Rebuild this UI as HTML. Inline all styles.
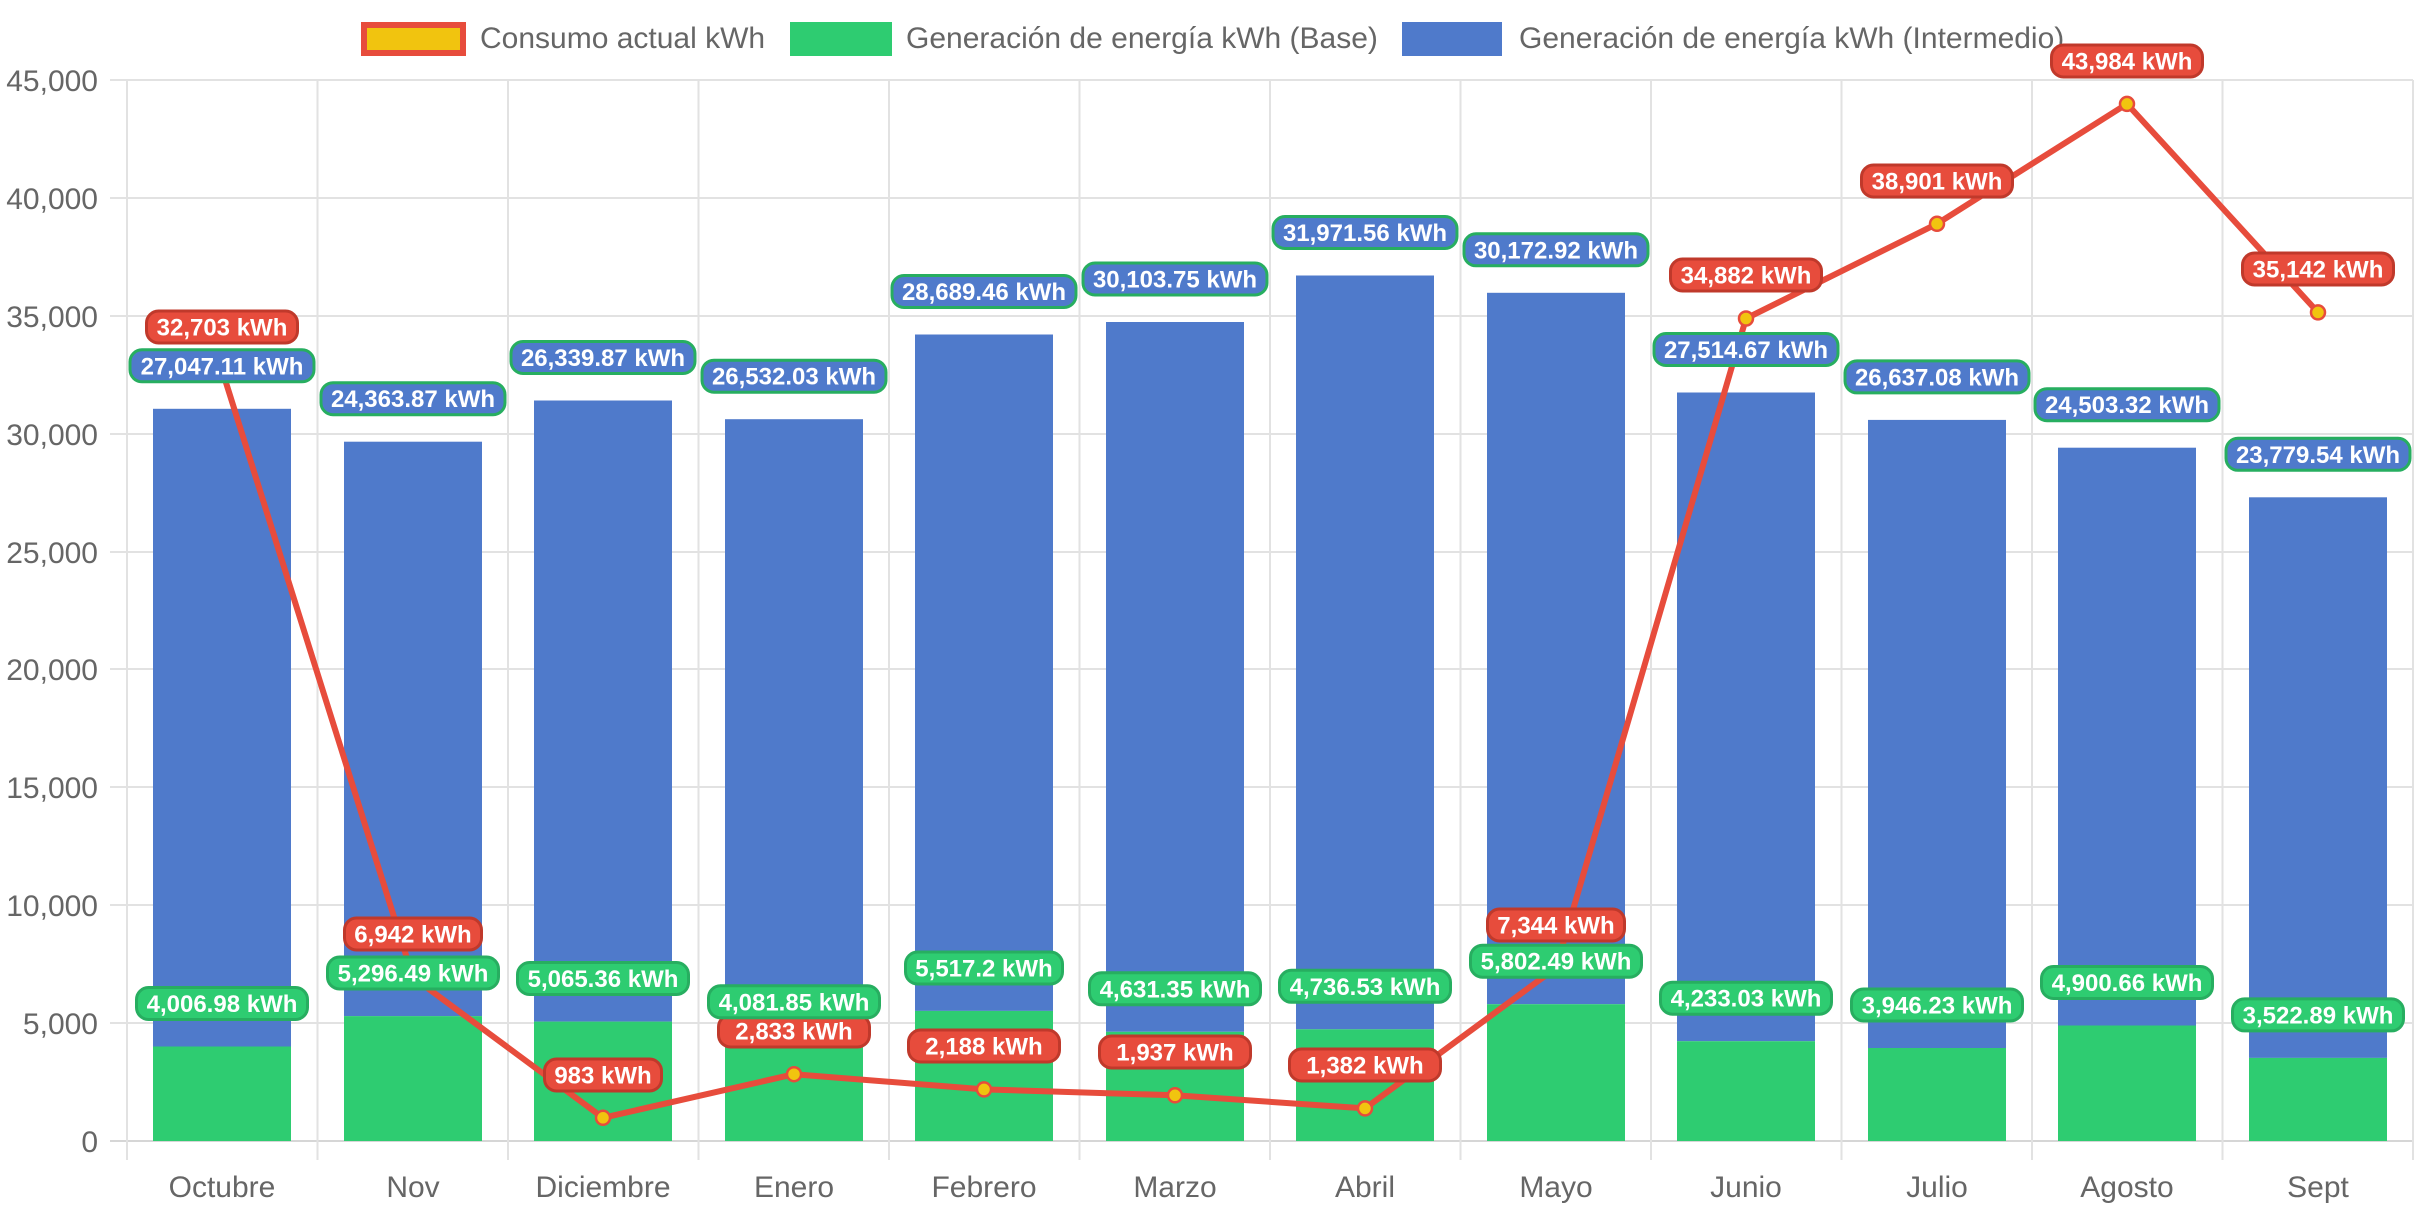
<!DOCTYPE html>
<html><head><meta charset="utf-8"><style>html,body{margin:0;padding:0;background:#fff;}svg{display:block;}</style></head>
<body>
<svg width="2427" height="1212" xmlns="http://www.w3.org/2000/svg" font-family="Liberation Sans, Arial, sans-serif">
<!-- grid -->
<g stroke="#e2e2e2" stroke-width="2">
<line x1="110" y1="80" x2="2413" y2="80"/><line x1="110" y1="198" x2="2413" y2="198"/><line x1="110" y1="316" x2="2413" y2="316"/>
<line x1="110" y1="434" x2="2413" y2="434"/><line x1="110" y1="552" x2="2413" y2="552"/><line x1="110" y1="669" x2="2413" y2="669"/>
<line x1="110" y1="787" x2="2413" y2="787"/><line x1="110" y1="905" x2="2413" y2="905"/><line x1="110" y1="1023" x2="2413" y2="1023"/>
<line x1="110" y1="1141" x2="2413" y2="1141" stroke="#d6d6d6"/>
<line x1="127" y1="80" x2="127" y2="1160"/><line x1="317.5" y1="80" x2="317.5" y2="1160"/><line x1="508" y1="80" x2="508" y2="1160"/>
<line x1="698.5" y1="80" x2="698.5" y2="1160"/><line x1="889" y1="80" x2="889" y2="1160"/><line x1="1079.5" y1="80" x2="1079.5" y2="1160"/>
<line x1="1270" y1="80" x2="1270" y2="1160"/><line x1="1460.5" y1="80" x2="1460.5" y2="1160"/><line x1="1651" y1="80" x2="1651" y2="1160"/>
<line x1="1841.5" y1="80" x2="1841.5" y2="1160"/><line x1="2032" y1="80" x2="2032" y2="1160"/><line x1="2222.5" y1="80" x2="2222.5" y2="1160"/>
<line x1="2413" y1="80" x2="2413" y2="1160"/>
</g>
<!-- y labels -->
<g fill="#666" font-size="30" text-anchor="end">
<text x="98" y="91">45,000</text><text x="98" y="209">40,000</text><text x="98" y="327">35,000</text>
<text x="98" y="445">30,000</text><text x="98" y="563">25,000</text><text x="98" y="680">20,000</text>
<text x="98" y="798">15,000</text><text x="98" y="916">10,000</text><text x="98" y="1034">5,000</text><text x="98" y="1152">0</text>
</g>
<!-- x labels -->
<g fill="#666" font-size="30" text-anchor="middle">
<text x="222" y="1197">Octubre</text><text x="413" y="1197">Nov</text><text x="603" y="1197">Diciembre</text>
<text x="794" y="1197">Enero</text><text x="984" y="1197">Febrero</text><text x="1175" y="1197">Marzo</text>
<text x="1365" y="1197">Abril</text><text x="1556" y="1197">Mayo</text><text x="1746" y="1197">Junio</text>
<text x="1937" y="1197">Julio</text><text x="2127" y="1197">Agosto</text><text x="2318" y="1197">Sept</text>
</g>
<!-- legend -->
<rect x="364" y="25" width="99" height="28" fill="#f1c40f" stroke="#e74c3c" stroke-width="6"/>
<text x="480" y="48" fill="#666" font-size="30">Consumo actual kWh</text>
<rect x="790" y="22" width="102" height="34" fill="#2ecc71"/>
<text x="906" y="48" fill="#666" font-size="30">Generación de energía kWh (Base)</text>
<rect x="1402" y="22" width="100" height="34" fill="#4f7acb"/>
<text x="1519" y="48" fill="#666" font-size="30">Generación de energía kWh (Intermedio)</text>
<!-- blue bars (top segment) -->
<g fill="#4f7acb">
<rect x="153" y="408.8" width="138" height="637.7"/><rect x="344" y="441.7" width="138" height="574.4"/>
<rect x="534" y="400.5" width="138" height="621.1"/><rect x="725" y="419.2" width="138" height="625.6"/>
<rect x="915" y="334.5" width="138" height="676.4"/><rect x="1106" y="322" width="138" height="709.8"/>
<rect x="1296" y="275.5" width="138" height="753.8"/><rect x="1487" y="292.8" width="138" height="711.4"/>
<rect x="1677" y="392.5" width="138" height="648.7"/><rect x="1868" y="419.9" width="138" height="628.1"/>
<rect x="2058" y="447.7" width="138" height="577.8"/><rect x="2249" y="497.3" width="138" height="560.6"/>
</g>
<g fill="#2ecc71">
<rect x="153" y="1046.5" width="138" height="94.5"/><rect x="344" y="1016.1" width="138" height="124.9"/>
<rect x="534" y="1021.6" width="138" height="119.4"/><rect x="725" y="1044.8" width="138" height="96.2"/>
<rect x="915" y="1010.9" width="138" height="130.1"/><rect x="1106" y="1031.8" width="138" height="109.2"/>
<rect x="1296" y="1029.3" width="138" height="111.7"/><rect x="1487" y="1004.2" width="138" height="136.8"/>
<rect x="1677" y="1041.2" width="138" height="99.8"/><rect x="1868" y="1048" width="138" height="93"/>
<rect x="2058" y="1025.5" width="138" height="115.5"/><rect x="2249" y="1057.9" width="138" height="83.1"/>
</g>
<!-- line -->
<polyline fill="none" stroke="#e74c3c" stroke-width="6" stroke-linejoin="round" points="222,369.9 413,977.3 603,1117.8 794,1074.2 984,1089.4 1175,1095.3 1365,1108.4 1556,967.8 1746,318.5 1937,223.8 2127,103.9 2318,312.4"/>
<g fill="#f1c40f" stroke="#e74c3c" stroke-width="2.5">
<circle cx="222" cy="369.9" r="7"/><circle cx="413" cy="977.3" r="7"/><circle cx="603" cy="1117.8" r="7"/>
<circle cx="794" cy="1074.2" r="7"/><circle cx="984" cy="1089.4" r="7"/><circle cx="1175" cy="1095.3" r="7"/>
<circle cx="1365" cy="1108.4" r="7"/><circle cx="1556" cy="967.8" r="7"/><circle cx="1746" cy="318.5" r="7"/>
<circle cx="1937" cy="223.8" r="7"/><circle cx="2127" cy="103.9" r="7"/><circle cx="2318" cy="312.4" r="7"/>
</g>
<!-- red labels -->
<g fill="#e74c3c" stroke="#c0392b" stroke-width="3">
<rect x="146.5" y="311" width="151" height="32" rx="12"/><rect x="344.5" y="918" width="137" height="32" rx="12"/>
<rect x="544.5" y="1059" width="117" height="32" rx="12"/><rect x="718.5" y="1015" width="151" height="32" rx="12"/>
<rect x="908.5" y="1030" width="151" height="32" rx="12"/><rect x="1099.5" y="1036" width="151" height="32" rx="12"/>
<rect x="1289.5" y="1049" width="151" height="32" rx="12"/><rect x="1487.5" y="909" width="137" height="32" rx="12"/>
<rect x="1670.5" y="259" width="151" height="32" rx="12"/><rect x="1861.5" y="165" width="151" height="32" rx="12"/>
<rect x="2051.5" y="45" width="151" height="32" rx="12"/><rect x="2242.5" y="253" width="151" height="32" rx="12"/>
</g>
<g fill="#fff" font-size="24" font-weight="bold" text-anchor="middle">
<text x="222" y="335.5">32,703 kWh</text><text x="413" y="942.5">6,942 kWh</text><text x="603" y="1083.5">983 kWh</text>
<text x="794" y="1039.5">2,833 kWh</text><text x="984" y="1054.5">2,188 kWh</text><text x="1175" y="1060.5">1,937 kWh</text>
<text x="1365" y="1073.5">1,382 kWh</text><text x="1556" y="933.5">7,344 kWh</text><text x="1746" y="283.5">34,882 kWh</text>
<text x="1937" y="189.5">38,901 kWh</text><text x="2127" y="69.5">43,984 kWh</text><text x="2318" y="277.5">35,142 kWh</text>
</g>
<!-- green labels -->
<g fill="#2ecc71" stroke="#27ae60" stroke-width="3">
<rect x="136.5" y="987.5" width="171" height="32" rx="12"/><rect x="327.5" y="957" width="171" height="32" rx="12"/>
<rect x="517.5" y="962.5" width="171" height="32" rx="12"/><rect x="708.5" y="985.8" width="171" height="32" rx="12"/>
<rect x="905.5" y="952" width="157" height="32" rx="12"/><rect x="1089.5" y="972.8" width="171" height="32" rx="12"/>
<rect x="1279.5" y="970.3" width="171" height="32" rx="12"/><rect x="1470.5" y="945.2" width="171" height="32" rx="12"/>
<rect x="1660.5" y="982.2" width="171" height="32" rx="12"/><rect x="1851.5" y="989" width="171" height="32" rx="12"/>
<rect x="2041.5" y="966.5" width="171" height="32" rx="12"/><rect x="2232.5" y="998.9" width="171" height="32" rx="12"/>
</g>
<g fill="#fff" font-size="24" font-weight="bold" text-anchor="middle">
<text x="222" y="1012">4,006.98 kWh</text><text x="413" y="981.5">5,296.49 kWh</text><text x="603" y="987">5,065.36 kWh</text>
<text x="794" y="1010.3">4,081.85 kWh</text><text x="984" y="976.5">5,517.2 kWh</text><text x="1175" y="997.3">4,631.35 kWh</text>
<text x="1365" y="994.8">4,736.53 kWh</text><text x="1556" y="969.7">5,802.49 kWh</text><text x="1746" y="1006.7">4,233.03 kWh</text>
<text x="1937" y="1013.5">3,946.23 kWh</text><text x="2127" y="991">4,900.66 kWh</text><text x="2318" y="1023.4">3,522.89 kWh</text>
</g>
<!-- blue labels -->
<g fill="#4f7acb" stroke="#27ae60" stroke-width="3">
<rect x="130" y="349.8" width="184" height="32" rx="12"/><rect x="321" y="382.7" width="184" height="32" rx="12"/>
<rect x="511" y="341.5" width="184" height="32" rx="12"/><rect x="702" y="360.2" width="184" height="32" rx="12"/>
<rect x="892" y="275.5" width="184" height="32" rx="12"/><rect x="1083" y="263" width="184" height="32" rx="12"/>
<rect x="1273" y="216.5" width="184" height="32" rx="12"/><rect x="1464" y="233.8" width="184" height="32" rx="12"/>
<rect x="1654" y="333.5" width="184" height="32" rx="12"/><rect x="1845" y="360.9" width="184" height="32" rx="12"/>
<rect x="2035" y="388.7" width="184" height="32" rx="12"/><rect x="2226" y="438.3" width="184" height="32" rx="12"/>
</g>
<g fill="#fff" font-size="24" font-weight="bold" text-anchor="middle">
<text x="222" y="374.3">27,047.11 kWh</text><text x="413" y="407.2">24,363.87 kWh</text><text x="603" y="366">26,339.87 kWh</text>
<text x="794" y="384.7">26,532.03 kWh</text><text x="984" y="300">28,689.46 kWh</text><text x="1175" y="287.5">30,103.75 kWh</text>
<text x="1365" y="241">31,971.56 kWh</text><text x="1556" y="258.3">30,172.92 kWh</text><text x="1746" y="358">27,514.67 kWh</text>
<text x="1937" y="385.4">26,637.08 kWh</text><text x="2127" y="413.2">24,503.32 kWh</text><text x="2318" y="462.8">23,779.54 kWh</text>
</g>
</svg>
</body></html>
